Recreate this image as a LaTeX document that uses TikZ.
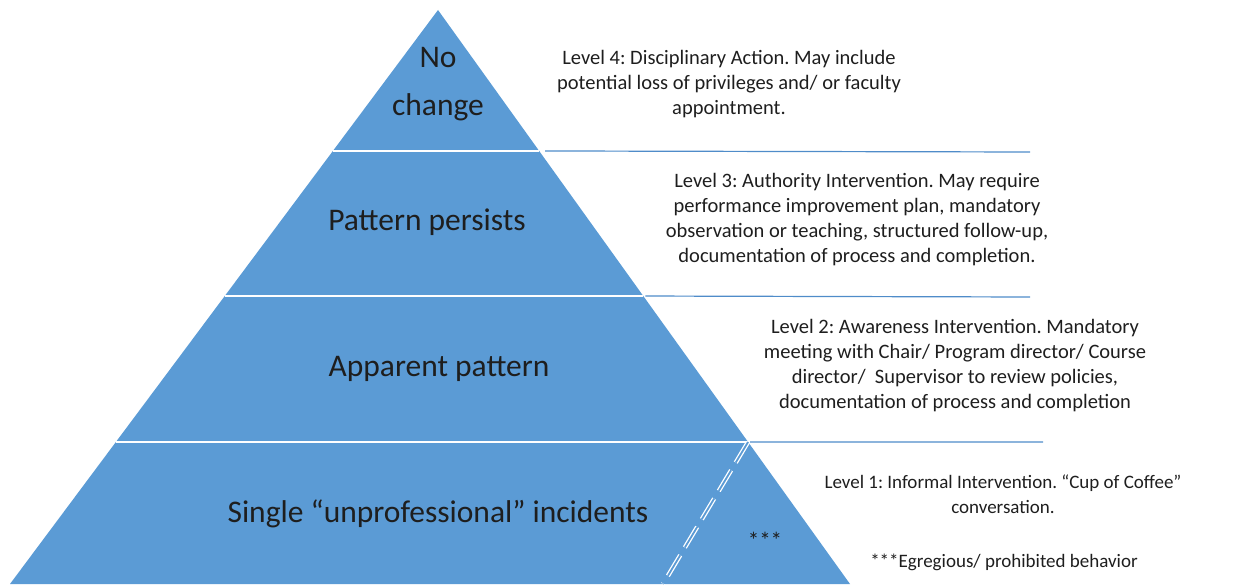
\documentclass[tikz,border=0pt]{standalone}
\usepackage{fontspec}
\setmainfont{Carlito}
\usepackage{xcolor}
\usetikzlibrary{positioning, calc}

\definecolor{pyrblue}{HTML}{5B9BD5}
\definecolor{rulblue}{HTML}{4F8CC9}
\definecolor{ink}{HTML}{1E1E1E}

\tikzset{
  bigtext/.style={text=ink, align=center, font=\fontsize{31.5}{48}\selectfont},
  smalltext/.style={text=ink, align=center, font=\fontsize{20.5}{25}\selectfont},
  cut/.style={white, line width=2pt},
  rule/.style={rulblue, line width=1.2pt}
}

\begin{document}
\frenchspacing
\begin{tikzpicture}[x=1pt,y=1pt]
\useasboundingbox (0,0) rectangle (1249,584);

% Pyramid
\coordinate (apex) at (438,574);
\coordinate (bl) at (10,0);
\coordinate (br) at (850,0);
\fill[pyrblue] (apex) -- (bl) -- (br) -- cycle;

% Level boundaries
\coordinate (l4) at ($(apex)!0.2456!(bl)$);
\coordinate (r4) at ($(apex)!0.2456!(br)$);
\coordinate (l3) at ($(apex)!0.4983!(bl)$);
\coordinate (r3) at ($(apex)!0.4983!(br)$);
\coordinate (l2) at ($(apex)!0.7526!(bl)$);
\coordinate (r2) at ($(apex)!0.7526!(br)$);
\coordinate (e4) at (1030,432);
\coordinate (e3) at (1030,287);
\coordinate (e2) at (1043,142);

\draw[cut] (l4) -- (r4);
\draw[cut] (l3) -- (r3);
\draw[cut] (l2) -- (r2);
\draw[rule] ($(r4)+(6,0)$) -- (e4);
\draw[rule] ($(r3)+(2,0)$) -- (e3);
\draw[rule] ($(r2)+(2,0)$) -- (e2);

% Egregious split
\coordinate (sb) at (663,0);
\draw[white, line width=1.3pt, double=pyrblue, double distance=1.8pt, dash pattern=on 24pt off 9pt] (r2) -- (sb);

% Pyramid labels
\node[bigtext] (nochange) at (438,500) {No\\change};
\node[bigtext] (persist) at (427,362) {Pattern persists};
\node[bigtext] (apparent) at (439,215) {Apparent pattern};
\node[bigtext] (single) at (438,70) {Single “unprofessional” incidents};
\node[smalltext, font=\fontsize{23}{25}\selectfont] (stars) at (765,44) {***};

% Responses
\node[smalltext] (actfour) at (729,500) {Level 4: Disciplinary Action. May include\\potential loss of privileges and/ or faculty\\appointment.};
\node[smalltext] (actthree) at (857,364) {Level 3: Authority Intervention. May require\\performance improvement plan, mandatory\\observation or teaching, structured follow-up,\\documentation of process and completion.};
\node[smalltext] (acttwo) at (955,218) {Level 2: Awareness Intervention. Mandatory\\meeting with Chair/ Program director/ Course\\director/\ \ Supervisor to review policies,\\documentation of process and completion};
\node[smalltext, font=\fontsize{19}{24.5}\selectfont] (actone) at (1003,90) {Level 1: Informal Intervention. “Cup of Coffee”\\conversation.};
\node[smalltext, font=\fontsize{19}{24.5}\selectfont] (egreg) at (1004,22) {***Egregious/ prohibited behavior};
\end{tikzpicture}
\end{document}
